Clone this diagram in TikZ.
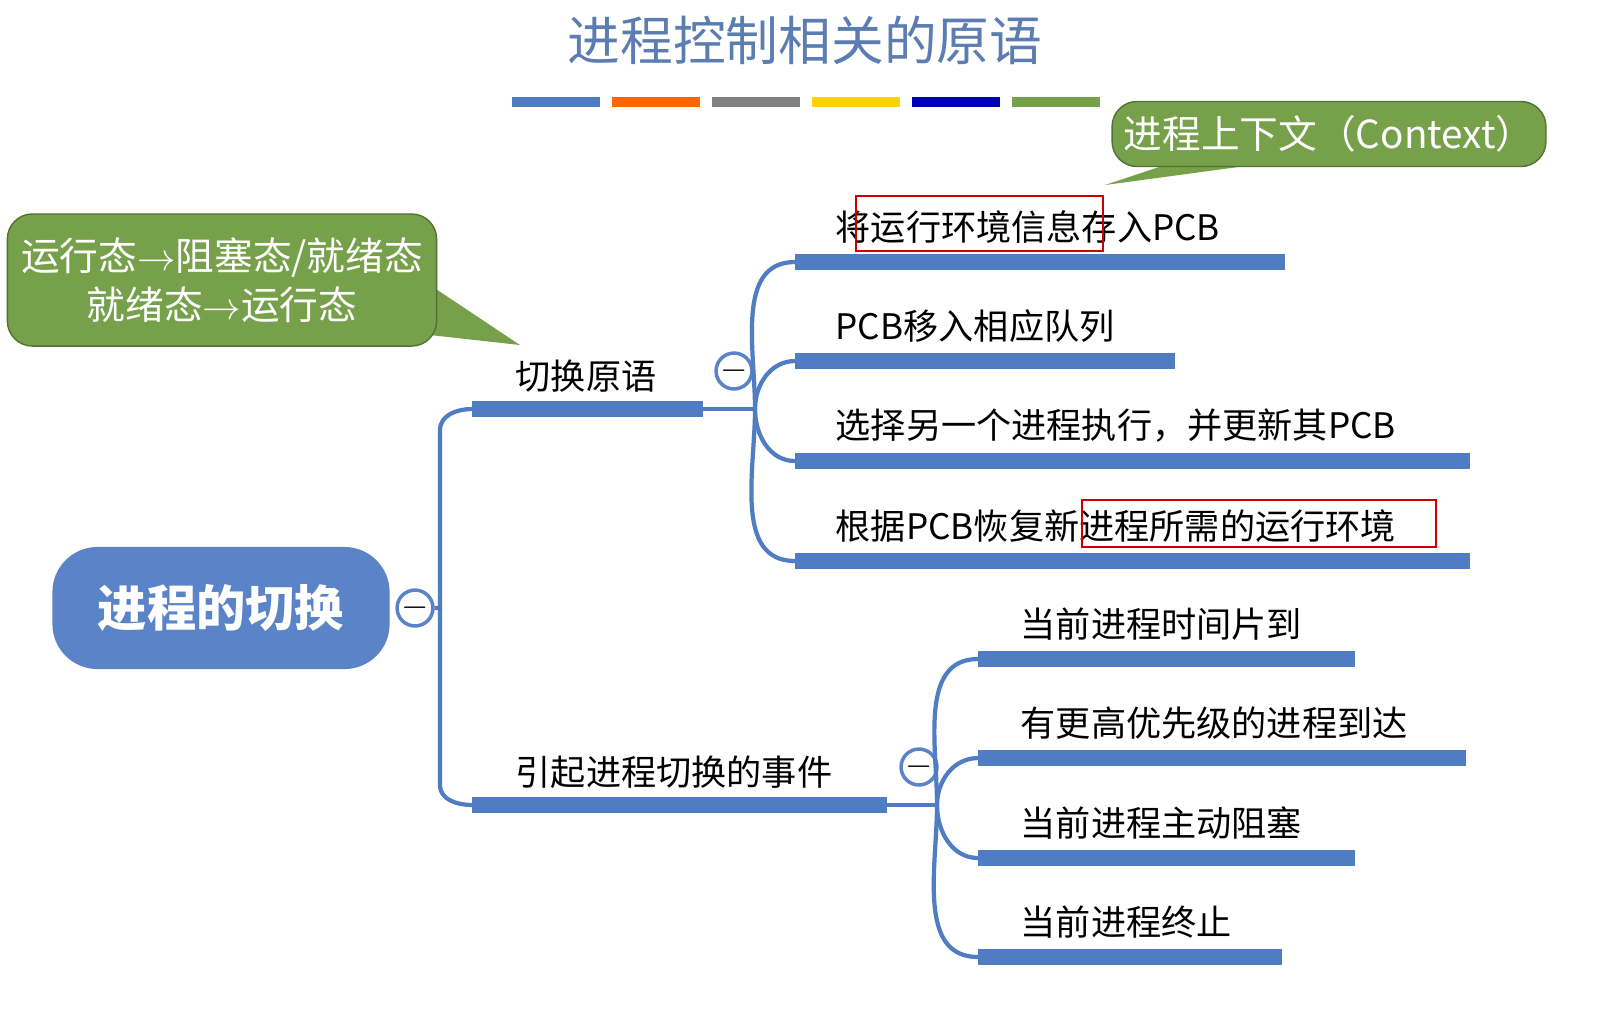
\documentclass[tikz,border=0pt]{standalone}
\usepackage{fontspec}
\setmainfont{Noto Sans CJK SC}
\usetikzlibrary{positioning}
\definecolor{mapblue}{HTML}{4F7CC2}
\definecolor{boxblue}{HTML}{5B84C8}
\definecolor{callgreen}{HTML}{76A14A}
\definecolor{titleblue}{HTML}{5B7DB1}
\tikzset{
  branch/.style={mapblue, line width=1.2pt},
  under/.style={mapblue, line width=4.5pt},
  leaf/.style={anchor=south west, inner sep=0pt, font=\fontsize{10pt}{12pt}\selectfont},
  fold/.style={circle, draw=boxblue, fill=white, line width=1pt, minimum size=0.3cm, inner sep=0pt},
  callout/.style={fill=callgreen, draw=callgreen!70!black, rounded corners=0.25cm, text=white},
  redbox/.style={draw=red!80!black, line width=0.6pt}
}
\begin{document}
\begin{tikzpicture}[x=0.01cm,y=-0.01cm]
  \useasboundingbox[fill=white] (0,0) rectangle (1604,1008);

  % title and colour bars
  \node[text=titleblue, font=\fontsize{15pt}{18pt}\selectfont] (title) at (805,40) {进程控制相关的原语};
  \foreach \c [count=\i] in {mapblue,orange!80!red,gray,yellow!70!orange,blue!70!black,callgreen}
    \draw[\c, line width=3pt] ({412+100*\i},102) -- ({500+100*\i},102);

  % root
  \node[fill=boxblue, rounded corners=0.45cm, text=white, minimum width=3.37cm, minimum height=1.22cm,
        font=\bfseries\fontsize{14pt}{16pt}\selectfont] (root) at (221,608) {进程的切换};
  \node[fold] (f0) at (415,608) {$-$};

  % first level
  \coordinate (a0) at (472,409);
  \coordinate (a1) at (703,409);
  \coordinate (b0) at (472,805);
  \coordinate (b1) at (887,805);
  \draw[branch] (f0.east) -- (440,608) -- (440,430) to[out=90,in=180] (a0);
  \draw[branch] (440,608) -- (440,785) to[out=-90,in=180] (b0);
  \draw[under] (a0) -- (a1);
  \draw[under] (b0) -- (b1);
  \node[leaf] (swt) at (515,393) {切换原语};
  \node[leaf] (evt) at (515,789) {引起进程切换的事件};
  \node[fold] (f1) at (734,371) {$-$};
  \node[fold] (f2) at (919,767) {$-$};

  % switch primitive leaves
  \coordinate (ja) at (755,409);
  \draw[branch] (a1) -- (ja);
  \foreach \y/\e/\t [count=\i] in {262/1285/将运行环境信息存入PCB,361/1175/PCB移入相应队列,
      461/1470/选择另一个进程执行，并更新其PCB,561/1470/根据PCB恢复新进程所需的运行环境} {
    \coordinate (s\i) at (795,\y);
    \draw[branch] (ja) to[out={\y<409 ? 90 : -90},in=180] (s\i);
    \draw[under] (s\i) -- (\e,\y);
    \node[leaf] (st\i) at (835,{\y-18}) {\t};
  }

  % event leaves
  \coordinate (jb) at (937,805);
  \draw[branch] (b1) -- (jb);
  \foreach \y/\e/\t [count=\i] in {659/1355/当前进程时间片到,758/1466/有更高优先级的进程到达,
      858/1355/当前进程主动阻塞,957/1282/当前进程终止} {
    \coordinate (e\i) at (978,\y);
    \draw[branch] (jb) to[out={\y<805 ? 90 : -90},in=180] (e\i);
    \draw[under] (e\i) -- (\e,\y);
    \node[leaf] (et\i) at (1020,{\y-18}) {\t};
  }

  % red marks
  \draw[redbox] (856,196) rectangle (1103,251);
  \draw[redbox] (1082,500) rectangle (1436,547);

  % callouts
  \coordinate (p1) at (1105,185);
  \fill[callgreen] (1180,160) -- (p1) -- (1290,160) -- cycle;
  \node[callout, minimum width=4.28cm, minimum height=0.65cm, font=\fontsize{11pt}{13pt}\selectfont]
    (ctx) at (1329,134) {进程上下文（Context）};
  \coordinate (p2) at (520,345);
  \fill[callgreen] (430,285) -- (p2) -- (430,335) -- cycle;
  \node[callout, minimum width=4.29cm, minimum height=1.32cm, align=center,
        font=\fontsize{11pt}{14pt}\selectfont] (st) at (222,280) {运行态$\rightarrow$阻塞态/就绪态\\就绪态$\rightarrow$运行态};
\end{tikzpicture}
\end{document}
